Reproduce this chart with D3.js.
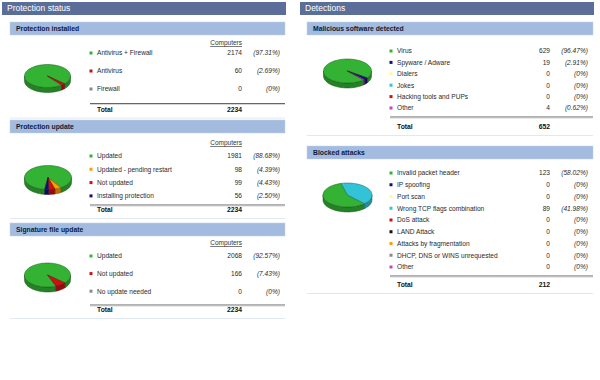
<!DOCTYPE html>
<html>
<head>
<meta charset="utf-8">
<script src="https://cdn.jsdelivr.net/npm/d3@7"></script>
<style>
  body { margin: 0; background: #fff; }
  svg { font-family: 'Liberation Sans', Arial, sans-serif; }
</style>
</head>
<body>
<div id="chartContainer"></div>
<script>
// ---- data ----
const installedLabels = ['Antivirus + Firewall', 'Antivirus', 'Firewall'];
const installedValues = [2174, 60, 0];
const installedPcts = ['97.31%', '2.69%', '0%'];
const installedColors = ['#33b233', '#cc1111', '#8a8a8a'];

const updateLabels = ['Updated', 'Updated - pending restart', 'Not updated', 'Installing protection'];
const updateValues = [1981, 98, 99, 56];
const updatePcts = ['88.68%', '4.39%', '4.43%', '2.50%'];
const updateColors = ['#33b233', '#ff9d00', '#cc1111', '#10107a'];

const signatureLabels = ['Updated', 'Not updated', 'No update needed'];
const signatureValues = [2068, 166, 0];
const signaturePcts = ['92.57%', '7.43%', '0%'];
const signatureColors = ['#33b233', '#cc1111', '#8a8a8a'];

const malwareLabels = ['Virus', 'Spyware / Adware', 'Dialers', 'Jokes', 'Hacking tools and PUPs', 'Other'];
const malwareValues = [629, 19, 0, 0, 0, 4];
const malwarePcts = ['96.47%', '2.91%', '0%', '0%', '0%', '0.62%'];
const malwareColors = ['#33b233', '#10107a', '#ffff80', '#33c3d6', '#cc1111', '#cc44bb'];

const attackLabels = ['Invalid packet header', 'IP spoofing', 'Port scan', 'Wrong TCP flags combination',
  'DoS attack', 'LAND Attack', 'Attacks by fragmentation', 'DHCP, DNS or WINS unrequested', 'Other'];
const attackValues = [123, 0, 0, 89, 0, 0, 0, 0, 0];
const attackPcts = ['58.02%', '0%', '0%', '41.98%', '0%', '0%', '0%', '0%', '0%'];
const attackColors = ['#33b233', '#10107a', '#ffff80', '#33c3d6', '#cc1111', '#111111', '#ff9d00', '#8a8a8a', '#cc44bb'];

var width = 600, height = 380;

var svg = d3.select('#chartContainer')
  .append('svg')
  .attr('width', width)
  .attr('height', height);

// main headers
[['Protection status', 2, 286], ['Detections', 300, 594]].forEach(function (h) {
  svg.append('rect')
    .attr('x', h[1]).attr('y', 2)
    .attr('width', h[2] - h[1]).attr('height', 13)
    .attr('fill', '#5b6d99');
  svg.append('text')
    .attr('x', h[1] + 5).attr('y', 8.5).attr('dy', '0.35em')
    .attr('fill', '#fff').style('font-size', '8.5px')
    .text(h[0]);
});

// layout for each block (positions only)
var sections = [
  { title: 'Protection installed', labels: installedLabels, values: installedValues, pcts: installedPcts, colors: installedColors,
    x0: 10, x1: 285, barY: 22, compY: 43, rowY: 53, step: 18, lineY: 103.5, totalY: 109.5,
    dotX: 91, valX: 242, pctX: 280, pie: { cx: 47.5, cy: 76, rx: 23, ry: 11.5, d: 5, end: 52 } },
  { title: 'Protection update', labels: updateLabels, values: updateValues, pcts: updatePcts, colors: updateColors,
    x0: 10, x1: 285, barY: 120, compY: 143, rowY: 156, step: 13.3, lineY: 205, totalY: 210,
    dotX: 91, valX: 242, pctX: 280, pie: { cx: 48, cy: 177.5, rx: 23.5, ry: 12, d: 5, end: 98 } },
  { title: 'Signature file update', labels: signatureLabels, values: signatureValues, pcts: signaturePcts, colors: signatureColors,
    x0: 10, x1: 285, barY: 223, compY: 243, rowY: 256, step: 17.6, lineY: 305, totalY: 310,
    dotX: 91, valX: 242, pctX: 280, pie: { cx: 47.5, cy: 275, rx: 23, ry: 12, d: 5, end: 68 } },
  { title: 'Malicious software detected', labels: malwareLabels, values: malwareValues, pcts: malwarePcts, colors: malwareColors,
    x0: 307, x1: 593, barY: 22, compY: null, rowY: 51, step: 11.4, lineY: 117, totalY: 127,
    dotX: 391, valX: 550, pctX: 588, pie: { cx: 347.5, cy: 71, rx: 24, ry: 12, d: 5, end: 48 } },
  { title: 'Blocked attacks', labels: attackLabels, values: attackValues, pcts: attackPcts, colors: attackColors,
    x0: 307, x1: 593, barY: 146, compY: null, rowY: 173, step: 11.75, lineY: 276, totalY: 285,
    dotX: 391, valX: 550, pctX: 588, pie: { cx: 347.5, cy: 195, rx: 24.5, ry: 12, d: 5, end: 46 } }
];

function ellPt(p, t, dz) {
  return [p.cx + p.rx * Math.cos(t), p.cy + p.ry * Math.sin(t) + (dz || 0)];
}

function arcPts(p, a, b, dz) {
  var n = Math.max(2, Math.ceil(Math.abs(b - a) / 0.05));
  var pts = [];
  for (var i = 0; i <= n; i++) pts.push(ellPt(p, a + (b - a) * i / n, dz));
  return pts;
}

function toPath(pts) {
  return 'M' + pts.map(function (q) { return q[0].toFixed(2) + ',' + q[1].toFixed(2); }).join('L') + 'Z';
}

function drawPie(g, p, values, colors) {
  // green slice starts at p.end (screen degrees) and goes clockwise
  var startRad = (p.end + 90) * Math.PI / 180;
  var arcs = d3.pie().sort(null).startAngle(startRad).endAngle(startRad + 2 * Math.PI)(values)
    .filter(function (a) { return a.value > 0; });

  // sides (front half only)
  arcs.forEach(function (a, i) {
    var s = a.startAngle - Math.PI / 2, e = a.endAngle - Math.PI / 2;
    var off = Math.floor(s / (2 * Math.PI)) * 2 * Math.PI;
    s -= off; e -= off;
    [[0, Math.PI], [2 * Math.PI, 3 * Math.PI]].forEach(function (f) {
      var lo = Math.max(s, f[0]), hi = Math.min(e, f[1]);
      if (hi <= lo) return;
      var top = arcPts(p, lo, hi, 0);
      var bot = arcPts(p, hi, lo, p.d);
      var c = colors[a.index];
      g.append('path')
        .attr('d', toPath(top.concat(bot)))
        .attr('fill', d3.color(c).darker(0.9))
        .attr('stroke', d3.color(c).darker(2))
        .attr('stroke-width', 0.5)
        .attr('stroke-linejoin', 'round');
    });
  });

  // top faces
  arcs.forEach(function (a) {
    var s = a.startAngle - Math.PI / 2, e = a.endAngle - Math.PI / 2;
    var pts = [[p.cx, p.cy]].concat(arcPts(p, s, e, 0));
    var c = colors[a.index];
    g.append('path')
      .attr('d', toPath(pts))
      .attr('fill', c)
      .attr('stroke', d3.color(c).darker(2))
      .attr('stroke-width', 0.5)
      .attr('stroke-linejoin', 'round');
  });
}

sections.forEach(function (sec) {
  var g = svg.append('g');

  g.append('rect')
    .attr('x', sec.x0).attr('y', sec.barY)
    .attr('width', sec.x1 - sec.x0).attr('height', 13)
    .attr('fill', '#a3bbdf')
    .attr('stroke', '#c4d4ec').attr('stroke-width', 0.5);
  g.append('text')
    .attr('x', sec.x0 + 6).attr('y', sec.barY + 6.5).attr('dy', '0.35em')
    .attr('fill', '#0c1a3a').style('font-size', '6.8px').style('font-weight', 'bold')
    .text(sec.title);

  if (sec.compY !== null) {
    g.append('text')
      .attr('x', sec.valX).attr('y', sec.compY).attr('dy', '0.35em')
      .attr('text-anchor', 'end').attr('fill', '#333')
      .style('font-size', '6.5px').style('text-decoration', 'underline')
      .text('Computers');
  }

  var y = d3.scaleLinear().domain([0, 1]).range([sec.rowY, sec.rowY + sec.step]);

  var rows = g.selectAll('g.row')
    .data(sec.labels)
    .enter().append('g')
    .attr('class', 'row')
    .attr('transform', function (d, i) { return 'translate(0,' + y(i) + ')'; });

  rows.append('rect')
    .attr('x', sec.dotX - 1.5).attr('y', -1.5)
    .attr('width', 3).attr('height', 3)
    .attr('fill', function (d, i) { return sec.colors[i]; });
  rows.append('text')
    .attr('x', sec.dotX + 6).attr('dy', '0.35em')
    .attr('fill', '#2a2a2a').style('font-size', '6.6px')
    .text(function (d) { return d; });
  rows.append('text')
    .attr('x', sec.valX).attr('dy', '0.35em').attr('text-anchor', 'end')
    .attr('fill', '#2a2a2a').style('font-size', '6.6px')
    .text(function (d, i) { return sec.values[i]; });
  rows.append('text')
    .attr('x', sec.pctX).attr('dy', '0.35em').attr('text-anchor', 'end')
    .attr('fill', '#2a2a2a').style('font-size', '6.6px').style('font-style', 'italic')
    .text(function (d, i) { return '(' + sec.pcts[i] + ')'; });

  g.append('line')
    .attr('x1', sec.dotX - 1).attr('x2', sec.x1)
    .attr('y1', sec.lineY).attr('y2', sec.lineY)
    .attr('stroke', '#666').attr('stroke-width', 1);
  g.append('line')
    .attr('x1', sec.dotX - 1).attr('x2', sec.x1)
    .attr('y1', sec.lineY + 1).attr('y2', sec.lineY + 1)
    .attr('stroke', '#ccc').attr('stroke-width', 0.8);

  g.append('text')
    .attr('x', sec.dotX + 6).attr('y', sec.totalY).attr('dy', '0.35em')
    .attr('fill', '#111').style('font-size', '6.8px').style('font-weight', 'bold')
    .text('Total');
  g.append('text')
    .attr('x', sec.valX).attr('y', sec.totalY).attr('dy', '0.35em').attr('text-anchor', 'end')
    .attr('fill', '#111').style('font-size', '6.8px').style('font-weight', 'bold')
    .text(d3.sum(sec.values));

  // faint bottom border of the block
  g.append('line')
    .attr('x1', sec.x0).attr('x2', sec.x1)
    .attr('y1', sec.totalY + 8.5).attr('y2', sec.totalY + 8.5)
    .attr('stroke', '#e2e8f2').attr('stroke-width', 1);

  drawPie(g, sec.pie, sec.values, sec.colors);
});
</script>
</body>
</html>
